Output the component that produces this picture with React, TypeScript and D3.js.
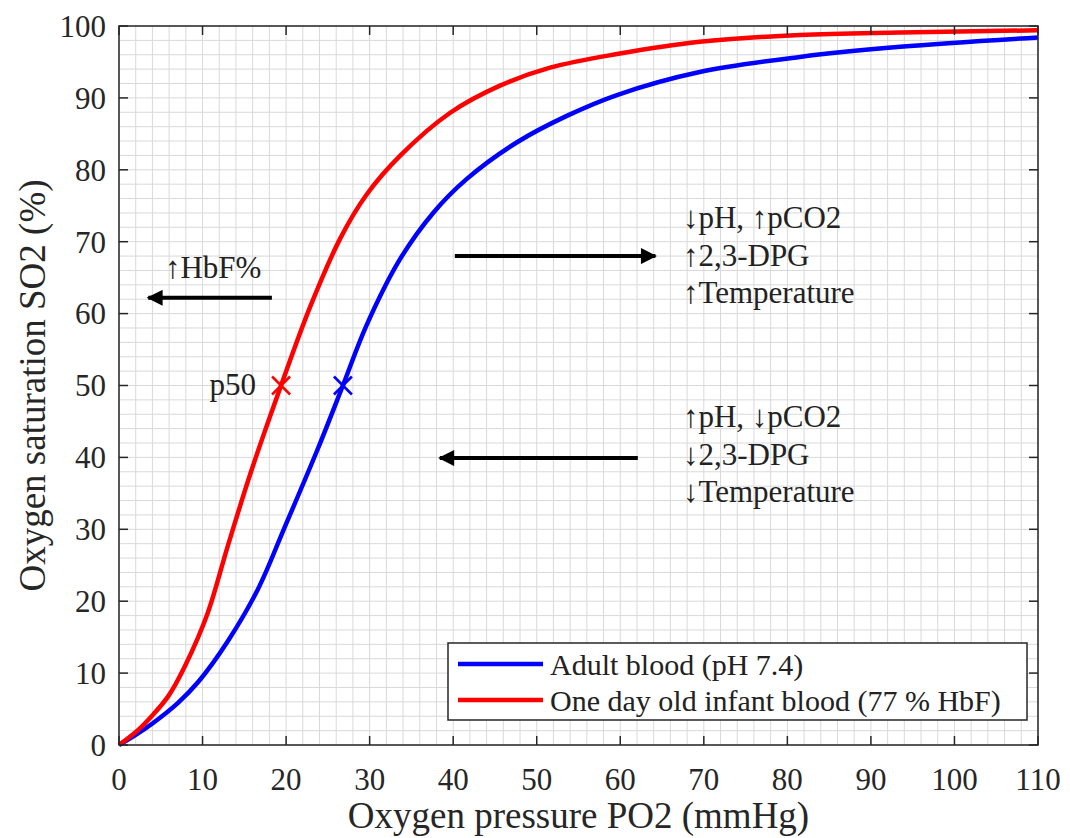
import React from 'react'
import * as d3 from 'd3'

const WIDTH = 1070
const HEIGHT = 838
const MARGIN = { top: 26, right: 32, bottom: 93, left: 119 }
const FONT = '"Liberation Serif", "Times New Roman", serif'

// adult blood (pH 7.4)
const adultPO2 = [0, 2, 4, 7, 9.5, 13, 16.6, 19.8, 23.8, 26.8, 29.6, 33.6, 37.6, 41.6, 47.6, 53.6, 59.6, 69.5, 81.5, 93.5, 110]
const adultSO2 = [0, 1.4, 3.0, 5.8, 8.8, 14.4, 21.6, 30.2, 41.2, 50, 58.3, 67.5, 74, 78.7, 83.8, 87.5, 90.4, 93.6, 95.7, 97.1, 98.4]

// one day old infant blood (77 % HbF)
const infantPO2 = [0, 2.3, 3.9, 5.9, 7.9, 10.6, 13, 15.8, 19.4, 22.9, 26.5, 29.6, 33.6, 39.6, 45.6, 51.6, 59.6, 69.5, 81.5, 93.5, 110]
const infantSO2 = [0, 2.1, 4.0, 6.8, 11.0, 18.3, 27.6, 38.0, 50, 61.0, 70.5, 76.5, 81.9, 87.9, 91.7, 94.2, 96.1, 97.8, 98.75, 99.1, 99.4]

const p50Values = [26.8, 19.4]
const seriesNames = ['Adult blood (pH 7.4)', 'One day old infant blood (77 % HbF)']
const seriesColors = ['#0000ff', '#ff0000']

const xTicks = d3.range(0, 111, 10)
const yTicks = d3.range(0, 101, 10)
const xMinor = d3.range(0, 111, 2)
const yMinor = d3.range(0, 101, 2)

// arrows: [x1, x2, y] in data units
const arrows = [
  [18.3, 3.5, 62.2],
  [40.2, 64.2, 68.0],
  [62.1, 38.4, 39.9]
]
const rightNotes = ['↓pH, ↑pCO2', '↑2,3-DPG', '↑Temperature']
const leftNotes = ['↑pH, ↓pCO2', '↓2,3-DPG', '↓Temperature']

const App = () => {
  const x = d3.scaleLinear().domain([0, 110]).range([MARGIN.left, WIDTH - MARGIN.right])
  const y = d3.scaleLinear().domain([0, 100]).range([HEIGHT - MARGIN.bottom, MARGIN.top])
  const [x0, x1] = x.range()
  const [y0, y1] = y.range()

  const line = d3
    .line<[number, number]>()
    .x(d => x(d[0]))
    .y(d => y(d[1]))
    .curve(d3.curveCatmullRom.alpha(0.5))

  const series = [
    adultPO2.map((p, i) => [p, adultSO2[i]] as [number, number]),
    infantPO2.map((p, i) => [p, infantSO2[i]] as [number, number])
  ]

  const axisColor = '#262626'
  const tickLen = 9

  return (
    <svg width={WIDTH} height={HEIGHT} style={{ position: 'absolute', left: 0, top: 0, background: '#fff' }} fontFamily={FONT}>
      <defs>
        <marker id="head" viewBox="0 0 10 10" refX="9" refY="5" markerWidth="5" markerHeight="4" orient="auto" markerUnits="strokeWidth">
          <path d="M0,0 L10,5 L0,10 z" fill="#000" />
        </marker>
      </defs>
      <rect x={x0} y={y1} width={x1 - x0} height={y0 - y1} fill="#fff" />

      {/* grid */}
      <g stroke="#d9d9d9" strokeWidth={1}>
        {xMinor.map(v => (
          <line key={'gx' + v} x1={x(v)} x2={x(v)} y1={y0} y2={y1} />
        ))}
        {yMinor.map(v => (
          <line key={'gy' + v} x1={x0} x2={x1} y1={y(v)} y2={y(v)} />
        ))}
      </g>

      {/* curves */}
      {series.map((s, i) => (
        <path key={i} d={line(s) || ''} fill="none" stroke={seriesColors[i]} strokeWidth={4.5} />
      ))}

      {/* p50 markers */}
      {p50Values.map((p, i) => {
        const cx = x(p)
        const cy = y(50)
        const r = 9
        return (
          <g key={'m' + i} stroke={seriesColors[i]} strokeWidth={2.5}>
            <line x1={cx - r} y1={cy - r} x2={cx + r} y2={cy + r} />
            <line x1={cx - r} y1={cy + r} x2={cx + r} y2={cy - r} />
          </g>
        )
      })}
      <text x={x(16.4)} y={y(48.7)} fontSize={31} textAnchor="end" fill="#222">p50</text>

      {/* arrows */}
      {arrows.map((a, i) => (
        <line key={'a' + i} x1={x(a[0])} x2={x(a[1])} y1={y(a[2])} y2={y(a[2])} stroke="#000" strokeWidth={4} markerEnd="url(#head)" />
      ))}
      <text x={x(5.5)} y={y(65)} fontSize={31} fill="#222">↑HbF%</text>
      {rightNotes.map((t, i) => (
        <text key={'r' + i} x={x(67.5)} y={y(71.9) + i * 37.5} fontSize={31} fill="#222">{t}</text>
      ))}
      {leftNotes.map((t, i) => (
        <text key={'l' + i} x={x(67.5)} y={y(44.2) + i * 37.5} fontSize={31} fill="#222">{t}</text>
      ))}

      {/* legend */}
      <g>
        <rect x={448} y={643} width={579} height={77} fill="#fff" stroke={axisColor} strokeWidth={1.5} />
        {seriesNames.map((n, i) => (
          <g key={'lg' + i}>
            <line x1={458} x2={543} y1={664 + i * 36} y2={664 + i * 36} stroke={seriesColors[i]} strokeWidth={4.5} />
            <text x={550} y={664 + i * 36} dy="0.35em" fontSize={30} fill="#222">{n}</text>
          </g>
        ))}
      </g>

      {/* box and ticks */}
      <rect x={x0} y={y1} width={x1 - x0} height={y0 - y1} fill="none" stroke={axisColor} strokeWidth={1.5} />
      <g stroke={axisColor} strokeWidth={1.5}>
        {xTicks.map(v => (
          <g key={'tx' + v}>
            <line x1={x(v)} x2={x(v)} y1={y0} y2={y0 - tickLen} />
            <line x1={x(v)} x2={x(v)} y1={y1} y2={y1 + tickLen} />
          </g>
        ))}
        {yTicks.map(v => (
          <g key={'ty' + v}>
            <line x1={x0} x2={x0 + tickLen} y1={y(v)} y2={y(v)} />
            <line x1={x1} x2={x1 - tickLen} y1={y(v)} y2={y(v)} />
          </g>
        ))}
      </g>
      <g fontSize={31} fill="#262626">
        {xTicks.map(v => (
          <text key={'lx' + v} x={x(v)} y={790} textAnchor="middle">{v}</text>
        ))}
        {yTicks.map(v => (
          <text key={'ly' + v} x={x0 - 13} y={y(v)} dy="0.35em" textAnchor="end">{v}</text>
        ))}
      </g>

      {/* axis titles */}
      <text x={(x0 + x1) / 2} y={828} fontSize={37} textAnchor="middle" fill="#262626">Oxygen pressure PO2 (mmHg)</text>
      <text transform={`translate(32,${(y0 + y1) / 2}) rotate(-90)`} fontSize={37} textAnchor="middle" dy="0.35em" fill="#262626">Oxygen saturation SO2 (%)</text>
    </svg>
  )
}

export default App
